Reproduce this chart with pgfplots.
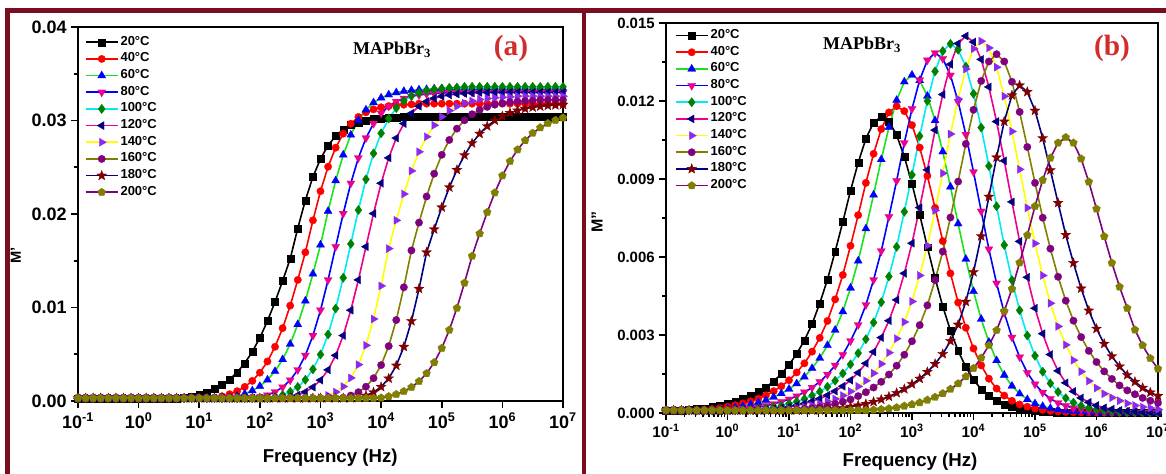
\documentclass[border=0pt]{standalone}
\usepackage{pgfplots}
\pgfplotsset{compat=1.18}
\usepackage{pgfplotstable}
\usetikzlibrary{plotmarks}
\usepackage{fontspec}
\setmainfont{Liberation Sans}
\newfontfamily\tnr{Liberation Serif}

\definecolor{framecol}{RGB}{122,14,32}
\definecolor{cLime}{RGB}{30,225,30}
\definecolor{cCyan}{RGB}{0,235,245}
\definecolor{cDGreen}{RGB}{0,128,0}
\definecolor{cNavy}{RGB}{0,0,128}
\definecolor{cViolet}{RGB}{140,40,240}
\definecolor{cPurple}{RGB}{128,0,128}
\definecolor{cOlive}{RGB}{128,128,0}
\definecolor{cMaroon}{RGB}{128,0,0}
\definecolor{cYellow}{RGB}{255,255,0}
\definecolor{cTitle}{RGB}{210,45,45}

\pgfdeclareplotmark{fstar}{%
 \pgfpathmoveto{\pgfpointpolar{90}{1.15\pgfplotmarksize}}%
 \pgfpathlineto{\pgfpointpolar{126}{0.48\pgfplotmarksize}}%
 \pgfpathlineto{\pgfpointpolar{162}{1.15\pgfplotmarksize}}%
 \pgfpathlineto{\pgfpointpolar{198}{0.48\pgfplotmarksize}}%
 \pgfpathlineto{\pgfpointpolar{234}{1.15\pgfplotmarksize}}%
 \pgfpathlineto{\pgfpointpolar{270}{0.48\pgfplotmarksize}}%
 \pgfpathlineto{\pgfpointpolar{306}{1.15\pgfplotmarksize}}%
 \pgfpathlineto{\pgfpointpolar{342}{0.48\pgfplotmarksize}}%
 \pgfpathlineto{\pgfpointpolar{18}{1.15\pgfplotmarksize}}%
 \pgfpathlineto{\pgfpointpolar{54}{0.48\pgfplotmarksize}}%
 \pgfpathclose
 \pgfusepathqfillstroke}

\pgfplotsset{
 ser/.style={line width=1.2pt,
   legend image code/.code={\draw[mark repeat=2,mark phase=2,##1] plot coordinates {(0pt,0pt) (12pt,0pt) (24pt,0pt)};}},
 s20/.style={ser, color=black, mark=square*, mark size=2.6pt, mark options={solid,line width=0.2pt,fill=black,draw=black}},
 s40/.style={ser, color=red, mark=*, mark size=2.8pt, mark options={solid,line width=0.2pt,fill=red,draw=red}},
 s60/.style={ser, color=cLime, mark=triangle*, mark size=3.5pt, mark options={solid,line width=0.2pt,fill=blue,draw=blue}},
 s80/.style={ser, color=blue, mark=triangle*, mark size=3.5pt, mark options={solid,line width=0.2pt,fill=magenta,draw=magenta,rotate=180}},
 s100/.style={ser, color=cCyan, mark=diamond*, mark size=3.5pt, mark options={solid,line width=0.2pt,fill=cDGreen,draw=cDGreen}},
 s120/.style={ser, color=magenta, mark=triangle*, mark size=3.5pt, mark options={solid,line width=0.2pt,fill=cNavy,draw=cNavy,rotate=90}},
 s140/.style={ser, color=cYellow, mark=triangle*, mark size=3.5pt, mark options={solid,line width=0.2pt,fill=cViolet,draw=cViolet,rotate=-90}},
 s160/.style={ser, color=cOlive, mark=*, mark size=2.8pt, mark options={solid,line width=0.2pt,fill=cPurple,draw=cPurple}},
 s180/.style={ser, color=cNavy, mark=fstar, mark size=3.4pt, mark options={solid,line width=0.2pt,fill=cMaroon,draw=cMaroon}},
 s200/.style={ser, color=cPurple, mark=pentagon*, mark size=3.1pt, mark options={solid,line width=0.2pt,fill=cOlive,draw=cOlive}},
 common/.style={
   scale only axis, xmin=-1, xmax=7, ymin=0,
   xtick={-1,0,1,2,3,4,5,6,7},
   xticklabels={10\textsuperscript{-1},10\textsuperscript{0},10\textsuperscript{1},10\textsuperscript{2},10\textsuperscript{3},10\textsuperscript{4},10\textsuperscript{5},10\textsuperscript{6},10\textsuperscript{7}},
   scaled y ticks=false,
   tick pos=left, tick align=outside,
   axis line style={line width=1.5pt},
   major tick length=5pt, minor tick length=3pt,
   every tick/.style={line width=1.2pt, black},
   legend cell align=left,
 },
}

\pgfplotstableread{
x s20 s40 s60 s80 s100 s120 s140 s160 s180 s200
-1.000 0.0003 0.0003 0.0003 0.0003 0.0003 0.0003 0.0003 0.0003 0.0003 0.0003
-0.875 0.0003 0.0003 0.0003 0.0003 0.0003 0.0003 0.0003 0.0003 0.0003 0.0003
-0.750 0.0003 0.0003 0.0003 0.0003 0.0003 0.0003 0.0003 0.0003 0.0003 0.0003
-0.625 0.0003 0.0003 0.0003 0.0003 0.0003 0.0003 0.0003 0.0003 0.0003 0.0003
-0.500 0.0003 0.0003 0.0003 0.0003 0.0003 0.0003 0.0003 0.0003 0.0003 0.0003
-0.375 0.0003 0.0003 0.0003 0.0003 0.0003 0.0003 0.0003 0.0003 0.0003 0.0003
-0.250 0.0003 0.0003 0.0003 0.0003 0.0003 0.0003 0.0003 0.0003 0.0003 0.0003
-0.125 0.0003 0.0003 0.0003 0.0003 0.0003 0.0003 0.0003 0.0003 0.0003 0.0003
0.000 0.0003 0.0003 0.0003 0.0003 0.0003 0.0003 0.0003 0.0003 0.0003 0.0003
0.125 0.0003 0.0003 0.0003 0.0003 0.0003 0.0003 0.0003 0.0003 0.0003 0.0003
0.250 0.0003 0.0003 0.0003 0.0003 0.0003 0.0003 0.0003 0.0003 0.0003 0.0003
0.375 0.0003 0.0003 0.0003 0.0003 0.0003 0.0003 0.0003 0.0003 0.0003 0.0003
0.500 0.0003 0.0003 0.0003 0.0003 0.0003 0.0003 0.0003 0.0003 0.0003 0.0003
0.625 0.0003 0.0003 0.0003 0.0003 0.0003 0.0003 0.0003 0.0003 0.0003 0.0003
0.750 0.00038 0.0003 0.0003 0.0003 0.0003 0.0003 0.0003 0.0003 0.0003 0.0003
0.875 0.00051 0.0003 0.0003 0.0003 0.0003 0.0003 0.0003 0.0003 0.0003 0.0003
1.000 0.00070 0.0003 0.0003 0.0003 0.0003 0.0003 0.0003 0.0003 0.0003 0.0003
1.125 0.00095 0.0003 0.0003 0.0003 0.0003 0.0003 0.0003 0.0003 0.0003 0.0003
1.250 0.00128 0.00035 0.0003 0.0003 0.0003 0.0003 0.0003 0.0003 0.0003 0.0003
1.375 0.00172 0.00051 0.0003 0.0003 0.0003 0.0003 0.0003 0.0003 0.0003 0.0003
1.500 0.00231 0.00073 0.00037 0.0003 0.0003 0.0003 0.0003 0.0003 0.0003 0.0003
1.625 0.00307 0.00105 0.00053 0.0003 0.0003 0.0003 0.0003 0.0003 0.0003 0.0003
1.750 0.00404 0.00151 0.00077 0.0003 0.0003 0.0003 0.0003 0.0003 0.0003 0.0003
1.875 0.00527 0.00215 0.00111 0.0003 0.0003 0.0003 0.0003 0.0003 0.0003 0.0003
2.000 0.00677 0.00303 0.00158 0.00041 0.0003 0.0003 0.0003 0.0003 0.0003 0.0003
2.125 0.00855 0.00423 0.00226 0.00063 0.0003 0.0003 0.0003 0.0003 0.0003 0.0003
2.250 0.01060 0.00580 0.00318 0.00097 0.00042 0.0003 0.0003 0.0003 0.0003 0.0003
2.375 0.01284 0.00779 0.00444 0.00148 0.00064 0.0003 0.0003 0.0003 0.0003 0.0003
2.500 0.01520 0.01020 0.00609 0.00223 0.00098 0.00041 0.0003 0.0003 0.0003 0.0003
2.625 0.01847 0.01295 0.00819 0.00333 0.00150 0.00063 0.0003 0.0003 0.0003 0.0003
2.750 0.02146 0.01590 0.01071 0.00488 0.00227 0.00097 0.0003 0.0003 0.0003 0.0003
2.875 0.02396 0.01932 0.01360 0.00700 0.00339 0.00148 0.0003 0.0003 0.0003 0.0003
3.000 0.02590 0.02244 0.01670 0.00971 0.00497 0.00223 0.00036 0.0003 0.0003 0.0003
3.125 0.02733 0.02506 0.02030 0.01295 0.00712 0.00333 0.00059 0.0003 0.0003 0.0003
3.250 0.02834 0.02709 0.02357 0.01650 0.00989 0.00488 0.00096 0.0003 0.0003 0.0003
3.375 0.02904 0.02859 0.02632 0.02005 0.01318 0.00700 0.00155 0.00035 0.0003 0.0003
3.500 0.02951 0.02965 0.02846 0.02329 0.01680 0.00971 0.00247 0.00058 0.0003 0.0003
3.625 0.02982 0.03038 0.03003 0.02600 0.02042 0.01295 0.00389 0.00094 0.00035 0.0003
3.750 0.03002 0.03087 0.03114 0.02812 0.02371 0.01650 0.00595 0.00153 0.00057 0.0003
3.875 0.03015 0.03119 0.03191 0.02967 0.02648 0.02005 0.00877 0.00244 0.00093 0.0003
4.000 0.03024 0.03141 0.03242 0.03077 0.02863 0.02329 0.01231 0.00384 0.00151 0.00034
4.125 0.03030 0.03154 0.03276 0.03152 0.03021 0.02600 0.01630 0.00587 0.00241 0.00049
4.250 0.03033 0.03163 0.03299 0.03203 0.03133 0.02812 0.01932 0.00866 0.00379 0.00071
4.375 0.03040 0.03169 0.03313 0.03237 0.03210 0.02967 0.02214 0.01216 0.00580 0.00103
4.500 0.03040 0.03173 0.03323 0.03259 0.03262 0.03077 0.02461 0.01610 0.00855 0.00147
4.625 0.03040 0.03180 0.03329 0.03273 0.03296 0.03152 0.02665 0.01908 0.01200 0.00210
4.750 0.03040 0.03180 0.03333 0.03283 0.03318 0.03203 0.02826 0.02187 0.01590 0.00295
4.875 0.03040 0.03180 0.03340 0.03289 0.03333 0.03237 0.02949 0.02431 0.01836 0.00412
5.000 0.03040 0.03180 0.03340 0.03293 0.03343 0.03259 0.03040 0.02633 0.02071 0.00565
5.125 0.03040 0.03180 0.03340 0.03300 0.03349 0.03273 0.03105 0.02792 0.02285 0.00760
5.250 0.03040 0.03180 0.03340 0.03300 0.03353 0.03283 0.03152 0.02913 0.02472 0.00994
5.375 0.03040 0.03180 0.03340 0.03300 0.03360 0.03289 0.03185 0.03002 0.02629 0.01263
5.500 0.03040 0.03180 0.03340 0.03300 0.03360 0.03293 0.03208 0.03067 0.02757 0.01550
5.625 0.03040 0.03180 0.03340 0.03300 0.03360 0.03300 0.03224 0.03113 0.02859 0.01790
5.750 0.03040 0.03180 0.03340 0.03300 0.03360 0.03300 0.03235 0.03146 0.02939 0.02019
5.875 0.03040 0.03180 0.03340 0.03300 0.03360 0.03300 0.03243 0.03169 0.03000 0.02228
6.000 0.03040 0.03180 0.03340 0.03300 0.03360 0.03300 0.03248 0.03185 0.03046 0.02410
6.125 0.03040 0.03180 0.03340 0.03300 0.03360 0.03300 0.03252 0.03196 0.03081 0.02563
6.250 0.03040 0.03180 0.03340 0.03300 0.03360 0.03300 0.03260 0.03203 0.03107 0.02688
6.375 0.03040 0.03180 0.03340 0.03300 0.03360 0.03300 0.03260 0.03208 0.03126 0.02787
6.500 0.03040 0.03180 0.03340 0.03300 0.03360 0.03300 0.03260 0.03212 0.03141 0.02865
6.625 0.03040 0.03180 0.03340 0.03300 0.03360 0.03300 0.03260 0.03220 0.03151 0.02924
6.750 0.03040 0.03180 0.03340 0.03300 0.03360 0.03300 0.03260 0.03220 0.03159 0.02969
6.875 0.03040 0.03180 0.03340 0.03300 0.03360 0.03300 0.03260 0.03220 0.03164 0.03003
7.000 0.03040 0.03180 0.03340 0.03300 0.03360 0.03300 0.03260 0.03220 0.03169 0.03029
}\tabA

\pgfplotstableread{
x b20 b40 b60 b80 b100 b120 b140 b160 b180 b200
-1.000 0.00010 0.00010 0.00010 0.00010 0.00010 0.00010 0.00010 0.00010 0.00010 0.00010
-0.875 0.00010 0.00010 0.00010 0.00010 0.00010 0.00010 0.00010 0.00010 0.00010 0.00010
-0.750 0.00010 0.00010 0.00010 0.00010 0.00010 0.00010 0.00010 0.00010 0.00010 0.00010
-0.625 0.00013 0.00010 0.00010 0.00010 0.00010 0.00010 0.00010 0.00010 0.00010 0.00010
-0.500 0.00015 0.00011 0.00010 0.00010 0.00010 0.00010 0.00010 0.00010 0.00010 0.00010
-0.375 0.00018 0.00013 0.00010 0.00010 0.00010 0.00010 0.00010 0.00010 0.00010 0.00010
-0.250 0.00023 0.00015 0.00012 0.00010 0.00010 0.00010 0.00010 0.00010 0.00010 0.00010
-0.125 0.00029 0.00019 0.00014 0.00010 0.00010 0.00010 0.00010 0.00010 0.00010 0.00010
0.000 0.00035 0.00024 0.00017 0.00010 0.00010 0.00010 0.00010 0.00010 0.00010 0.00010
0.125 0.00043 0.00030 0.00021 0.00012 0.00010 0.00010 0.00010 0.00010 0.00010 0.00010
0.250 0.00054 0.00037 0.00026 0.00015 0.00011 0.00010 0.00010 0.00010 0.00010 0.00010
0.375 0.00066 0.00045 0.00033 0.00018 0.00013 0.00010 0.00010 0.00010 0.00010 0.00010
0.500 0.00081 0.00055 0.00040 0.00022 0.00016 0.00011 0.00010 0.00010 0.00010 0.00010
0.625 0.00099 0.00068 0.00049 0.00028 0.00018 0.00013 0.00010 0.00010 0.00010 0.00010
0.750 0.00122 0.00084 0.00061 0.00035 0.00023 0.00016 0.00011 0.00010 0.00010 0.00010
0.875 0.00150 0.00103 0.00075 0.00043 0.00028 0.00019 0.00013 0.00010 0.00010 0.00010
1.000 0.00185 0.00126 0.00092 0.00053 0.00036 0.00023 0.00016 0.00010 0.00010 0.00010
1.125 0.00228 0.00156 0.00113 0.00065 0.00044 0.00029 0.00019 0.00012 0.00010 0.00010
1.250 0.00279 0.00191 0.00139 0.00080 0.00054 0.00036 0.00023 0.00015 0.00010 0.00010
1.375 0.00342 0.00236 0.00172 0.00098 0.00067 0.00045 0.00029 0.00018 0.00010 0.00010
1.500 0.00422 0.00289 0.00211 0.00120 0.00082 0.00055 0.00036 0.00022 0.00010 0.00010
1.625 0.00513 0.00354 0.00260 0.00148 0.00101 0.00068 0.00044 0.00028 0.00013 0.00010
1.750 0.00621 0.00437 0.00319 0.00183 0.00124 0.00084 0.00054 0.00035 0.00015 0.00010
1.875 0.00735 0.00531 0.00390 0.00224 0.00152 0.00103 0.00067 0.00043 0.00019 0.00010
2.000 0.00855 0.00643 0.00481 0.00277 0.00187 0.00126 0.00083 0.00052 0.00024 0.00010
2.125 0.00963 0.00761 0.00585 0.00339 0.00230 0.00155 0.00102 0.00065 0.00029 0.00010
2.250 0.01055 0.00885 0.00709 0.00416 0.00284 0.00191 0.00124 0.00080 0.00035 0.00010
2.375 0.01117 0.00997 0.00839 0.00512 0.00348 0.00235 0.00153 0.00098 0.00043 0.00012
2.500 0.01140 0.01092 0.00975 0.00623 0.00426 0.00290 0.00189 0.00120 0.00052 0.00014
2.625 0.01122 0.01156 0.01099 0.00755 0.00525 0.00355 0.00232 0.00148 0.00063 0.00017
2.750 0.01069 0.01180 0.01203 0.00893 0.00639 0.00435 0.00286 0.00182 0.00077 0.00021
2.875 0.00986 0.01161 0.01274 0.01039 0.00774 0.00537 0.00350 0.00224 0.00092 0.00027
3.000 0.00881 0.01107 0.01300 0.01170 0.00916 0.00653 0.00429 0.00276 0.00111 0.00033
3.125 0.00763 0.01021 0.01279 0.01281 0.01065 0.00790 0.00529 0.00338 0.00132 0.00040
3.250 0.00638 0.00912 0.01219 0.01357 0.01200 0.00935 0.00644 0.00414 0.00158 0.00050
3.375 0.00519 0.00789 0.01125 0.01385 0.01314 0.01088 0.00779 0.00511 0.00189 0.00061
3.500 0.00410 0.00661 0.01005 0.01363 0.01392 0.01225 0.00922 0.00621 0.00227 0.00075
3.625 0.00317 0.00537 0.00870 0.01299 0.01420 0.01341 0.01073 0.00752 0.00277 0.00092
3.750 0.00239 0.00425 0.00728 0.01198 0.01397 0.01421 0.01208 0.00890 0.00340 0.00113
3.875 0.00177 0.00328 0.00592 0.01071 0.01332 0.01450 0.01323 0.01035 0.00428 0.00140
4.000 0.00128 0.00248 0.00468 0.00927 0.01228 0.01427 0.01401 0.01166 0.00542 0.00172
4.125 0.00091 0.00183 0.00361 0.00776 0.01098 0.01360 0.01430 0.01277 0.00680 0.00212
4.250 0.00065 0.00132 0.00273 0.00630 0.00950 0.01254 0.01404 0.01352 0.00832 0.00260
4.375 0.00046 0.00094 0.00202 0.00499 0.00795 0.01121 0.01330 0.01380 0.00983 0.00318
4.500 0.00032 0.00067 0.00146 0.00385 0.00646 0.00970 0.01218 0.01352 0.01121 0.00392
4.625 0.00023 0.00047 0.00104 0.00291 0.00511 0.00812 0.01083 0.01274 0.01222 0.00477
4.750 0.00016 0.00033 0.00074 0.00215 0.00395 0.00660 0.00937 0.01158 0.01260 0.00578
4.875 0.00011 0.00024 0.00052 0.00155 0.00298 0.00522 0.00789 0.01023 0.01235 0.00684
5.000 0.00008 0.00017 0.00036 0.00111 0.00220 0.00403 0.00652 0.00885 0.01163 0.00795
5.125 0.00006 0.00012 0.00026 0.00079 0.00159 0.00305 0.00529 0.00751 0.01057 0.00896
5.250 0.00004 0.00008 0.00018 0.00055 0.00114 0.00225 0.00422 0.00632 0.00934 0.00981
5.375 0.00003 0.00006 0.00013 0.00039 0.00081 0.00162 0.00333 0.00524 0.00808 0.01039
5.500 0.00002 0.00004 0.00009 0.00028 0.00057 0.00116 0.00262 0.00432 0.00685 0.01060
5.625 0.00002 0.00003 0.00007 0.00019 0.00040 0.00083 0.00203 0.00355 0.00577 0.01039
5.750 0.00002 0.00002 0.00005 0.00014 0.00028 0.00058 0.00159 0.00292 0.00479 0.00978
5.875 0.00002 0.00002 0.00003 0.00010 0.00020 0.00041 0.00123 0.00239 0.00394 0.00889
6.000 0.00002 0.00002 0.00002 0.00007 0.00014 0.00029 0.00096 0.00196 0.00324 0.00785
6.125 0.00002 0.00002 0.00002 0.00005 0.00010 0.00020 0.00074 0.00160 0.00266 0.00679
6.250 0.00002 0.00002 0.00002 0.00003 0.00007 0.00015 0.00059 0.00131 0.00218 0.00577
6.375 0.00002 0.00002 0.00002 0.00002 0.00005 0.00010 0.00047 0.00106 0.00179 0.00485
6.500 0.00002 0.00002 0.00002 0.00002 0.00004 0.00007 0.00037 0.00087 0.00146 0.00403
6.625 0.00002 0.00002 0.00002 0.00002 0.00003 0.00005 0.00029 0.00072 0.00120 0.00320
6.750 0.00002 0.00002 0.00002 0.00002 0.00002 0.00004 0.00023 0.00058 0.00097 0.00260
6.875 0.00002 0.00002 0.00002 0.00002 0.00002 0.00003 0.00019 0.00047 0.00079 0.00210
7.000 0.00002 0.00002 0.00002 0.00002 0.00002 0.00002 0.00014 0.00039 0.00066 0.00170
}\tabB

\begin{document}
\begin{tikzpicture}[x=0.75pt,y=0.75pt]
\useasboundingbox (0,0) rectangle (1166,474);
\fill[white] (0,0) rectangle (1166,474);

% ---------- panel (a)
\begin{axis}[common,
  at={(58.5pt,54.75pt)}, anchor=south west,
  width=363.75pt, height=280.5pt,
  ymax=0.04,
  ytick={0,0.01,0.02,0.03,0.04},
  yticklabels={0.00,0.01,0.02,0.03,0.04},
  minor ytick={0.005,0.015,0.025,0.035},
  ticklabel style={font=\fontsize{13.5}{14}\selectfont\bfseries},
  xlabel={Frequency (Hz)}, ylabel={M'},
  every axis x label/.style={at={(axis description cs:0.52,-0.152)}, anchor=center, font=\fontsize{14}{16}\selectfont\bfseries},
  every axis y label/.style={at={(axis description cs:-0.128,0.39)}, rotate=90, anchor=center, font=\fontsize{11}{13}\selectfont\bfseries},
  legend style={at={(0,1)}, anchor=north west, xshift=5pt, yshift=-5pt, draw=none, fill=none,
     font=\fontsize{9.75}{10}\selectfont\bfseries, row sep=0pt, inner sep=0pt,
     nodes={inner xsep=1.5pt, inner ysep=0pt, text height=8.5pt, text depth=4pt}},
]
\addplot[s20] table[x=x,y=s20]{\tabA};
\addplot[s40] table[x=x,y=s40]{\tabA};
\addplot[s60] table[x=x,y=s60]{\tabA};
\addplot[s80] table[x=x,y=s80]{\tabA};
\addplot[s100] table[x=x,y=s100]{\tabA};
\addplot[s120] table[x=x,y=s120]{\tabA};
\addplot[s140] table[x=x,y=s140]{\tabA};
\addplot[s160] table[x=x,y=s160]{\tabA};
\addplot[s180] table[x=x,y=s180]{\tabA};
\addplot[s200] table[x=x,y=s200]{\tabA};
\legend{20°C,40°C,60°C,80°C,100°C,120°C,140°C,160°C,180°C,200°C}
\end{axis}

% ---------- panel (b)
\begin{axis}[common,
  at={(499.5pt,45.75pt)}, anchor=south west,
  width=369pt, height=292.5pt,
  ymax=0.015,
  ytick={0,0.003,0.006,0.009,0.012,0.015},
  yticklabels={0.000,0.003,0.006,0.009,0.012,0.015},
  minor ytick={0.0015,0.0045,0.0075,0.0105,0.0135},
  minor xtick={-0.699,-0.523,-0.398,-0.301,-0.222,-0.155,-0.097,-0.046,
    0.301,0.477,0.602,0.699,0.778,0.845,0.903,0.954,
    1.301,1.477,1.602,1.699,1.778,1.845,1.903,1.954,
    2.301,2.477,2.602,2.699,2.778,2.845,2.903,2.954,
    3.301,3.477,3.602,3.699,3.778,3.845,3.903,3.954,
    4.301,4.477,4.602,4.699,4.778,4.845,4.903,4.954,
    5.301,5.477,5.602,5.699,5.778,5.845,5.903,5.954,
    6.301,6.477,6.602,6.699,6.778,6.845,6.903,6.954},
  xticklabel style={font=\fontsize{11.5}{12}\selectfont\bfseries},
  yticklabel style={font=\fontsize{11.2}{12}\selectfont\bfseries},
  xlabel={Frequency (Hz)}, ylabel={M''},
  every axis x label/.style={at={(axis description cs:0.496,-0.126)}, anchor=center, font=\fontsize{14}{16}\selectfont\bfseries},
  every axis y label/.style={at={(axis description cs:-0.14,0.49)}, rotate=90, anchor=center, font=\fontsize{12}{14}\selectfont\bfseries},
  legend style={at={(0,1)}, anchor=north west, xshift=6.5pt, yshift=-3pt, draw=none, fill=none,
     font=\fontsize{9.75}{10}\selectfont\bfseries, row sep=0pt, inner sep=0pt,
     nodes={inner xsep=1.5pt, inner ysep=0pt, text height=8.5pt, text depth=4pt}},
]
\addplot[s20] table[x=x,y=b20]{\tabB};
\addplot[s40] table[x=x,y=b40]{\tabB};
\addplot[s60] table[x=x,y=b60]{\tabB};
\addplot[s80] table[x=x,y=b80]{\tabB};
\addplot[s100] table[x=x,y=b100]{\tabB};
\addplot[s120] table[x=x,y=b120]{\tabB};
\addplot[s140] table[x=x,y=b140]{\tabB};
\addplot[s160] table[x=x,y=b160]{\tabB};
\addplot[s180] table[x=x,y=b180]{\tabB};
\addplot[s200] table[x=x,y=b200]{\tabB};
\legend{20°C,40°C,60°C,80°C,100°C,120°C,140°C,160°C,180°C,200°C}
\end{axis}

% ---------- annotations
\node[font=\tnr\bfseries\fontsize{13.5}{14}\selectfont] at (392,424) {MAPbBr\textsubscript{3}};
\node[font=\tnr\bfseries\fontsize{22}{24}\selectfont, text=cTitle] at (511,426) {(a)};
\node[font=\tnr\bfseries\fontsize{13.5}{14}\selectfont] at (862,429) {MAPbBr\textsubscript{3}};
\node[font=\tnr\bfseries\fontsize{22}{24}\selectfont, text=cTitle] at (1112,426) {(b)};

% ---------- frame
\draw[line width=3.75pt, framecol] (7.5,-5) -- (7.5,463.5) -- (1170,463.5);
\draw[line width=3pt, framecol] (584,-5) -- (584,463.5);
\end{tikzpicture}
\end{document}
